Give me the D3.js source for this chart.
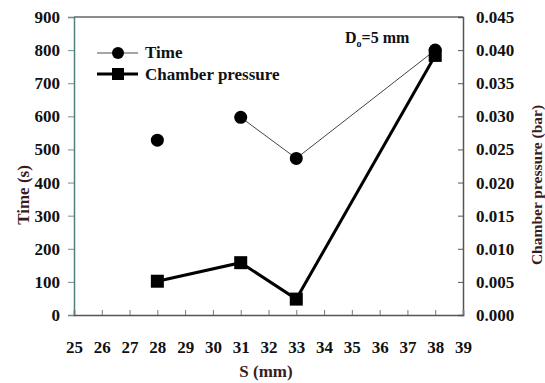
<!DOCTYPE html>
<html>
<head>
<meta charset="utf-8">
<script src="https://cdn.jsdelivr.net/npm/d3@7"></script>
<style>
  body { margin: 0; background: #fff; }
  text { font-family: "Liberation Serif", "Times New Roman", serif; font-weight: bold; }
</style>
</head>
<body>
<svg id="chart" width="545" height="383"></svg>
<script>
// data
const sValues = [28, 31, 33, 38];
const timeValues = [528, 597, 473, 800];
const pressureValues = [0.0051, 0.0079, 0.0024, 0.0392];
// the first time point is not joined to the others
const timeLinked = [false, true, true, true];
const xTicks = [25, 26, 27, 28, 29, 30, 31, 32, 33, 34, 35, 36, 37, 38, 39];
const timeTicks = [0, 100, 200, 300, 400, 500, 600, 700, 800, 900];
const pressureTicks = [0, 0.005, 0.01, 0.015, 0.02, 0.025, 0.03, 0.035, 0.04, 0.045];

const svg = d3.select("#chart");
const plotLeft = 74, plotRight = 463, plotTop = 17, plotBottom = 315;

const x = d3.scaleLinear().domain([25, 39]).range([plotLeft, plotRight]);
const yTime = d3.scaleLinear().domain([0, 900]).range([plotBottom, plotTop]);
const yPress = d3.scaleLinear().domain([0, 0.045]).range([plotBottom, plotTop]);

// frame
svg.append("line").attr("x1", plotLeft).attr("x2", plotRight).attr("y1", plotTop).attr("y2", plotTop)
    .attr("stroke", "#666").attr("stroke-width", 1.5);

// left axis
const gLeft = svg.append("g").attr("transform", `translate(${plotLeft},0)`)
    .call(d3.axisLeft(yTime).tickValues(timeTicks).tickSize(6).tickPadding(8).tickFormat(d3.format("d")));
gLeft.select(".domain").attr("stroke", "#4f7f7f").attr("stroke-width", 1.5);
gLeft.selectAll(".tick line").attr("stroke", "#6f8f8f");
gLeft.selectAll("text").style("font-size", "17px").attr("fill", "#111").attr("font-family", null);

// right axis, ticks inside
const gRight = svg.append("g").attr("transform", `translate(${plotRight},0)`)
    .call(d3.axisRight(yPress).tickValues(pressureTicks).tickSize(-5).tickPadding(13).tickFormat(d3.format(".3f")));
gRight.select(".domain").attr("stroke", "#555").attr("stroke-width", 1.5);
gRight.selectAll(".tick line").attr("stroke", "#555");
gRight.selectAll("text").style("font-size", "17px").attr("fill", "#111").attr("font-family", null);

// bottom axis, ticks inside
const gBottom = svg.append("g").attr("transform", `translate(0,${plotBottom})`)
    .call(d3.axisBottom(x).tickValues(xTicks).tickSize(-5).tickPadding(26).tickFormat(d3.format("d")));
gBottom.select(".domain").attr("stroke", "#555").attr("stroke-width", 1.5);
gBottom.selectAll(".tick line").attr("stroke", "#777");
gBottom.selectAll("text").style("font-size", "17px").attr("fill", "#111").attr("font-family", null);

// axis titles
svg.append("text").attr("transform", "translate(29,195) rotate(-90)")
    .attr("text-anchor", "middle").style("font-size", "17px").attr("fill", "#3a1c1c").text("Time (s)");
svg.append("text").attr("transform", "translate(542,185) rotate(-90)")
    .attr("text-anchor", "middle").style("font-size", "15.5px").attr("fill", "#3a1c1c").text("Chamber pressure (bar)");
svg.append("text").attr("x", 266).attr("y", 377)
    .attr("text-anchor", "middle").style("font-size", "17px").attr("fill", "#3a1c1c").text("S (mm)");

// time series: thin gray line, circles
const timeData = sValues.map((s, i) => ({ s: s, v: timeValues[i], linked: timeLinked[i] }));
const timeLine = d3.line().defined(d => d.linked).x(d => x(d.s)).y(d => yTime(d.v));
svg.append("path").datum(timeData).attr("d", timeLine)
    .attr("fill", "none").attr("stroke", "#444").attr("stroke-width", 1);
svg.selectAll(".tpt").data(timeData).enter().append("circle").attr("class", "tpt")
    .attr("cx", d => x(d.s)).attr("cy", d => yTime(d.v)).attr("r", 6.5).attr("fill", "#000");

// pressure series: thick black line, squares
const pressData = sValues.map((s, i) => ({ s: s, v: pressureValues[i] }));
const pressLine = d3.line().x(d => x(d.s)).y(d => yPress(d.v));
svg.append("path").datum(pressData).attr("d", pressLine)
    .attr("fill", "none").attr("stroke", "#000").attr("stroke-width", 3);
svg.selectAll(".ppt").data(pressData).enter().append("rect").attr("class", "ppt")
    .attr("x", d => x(d.s) - 6.5).attr("y", d => yPress(d.v) - 6.5)
    .attr("width", 13).attr("height", 13).attr("fill", "#000");

// legend
const legend = svg.append("g");
legend.append("line").attr("x1", 97).attr("x2", 138).attr("y1", 53).attr("y2", 53)
    .attr("stroke", "#888").attr("stroke-width", 1.5);
legend.append("circle").attr("cx", 118).attr("cy", 53).attr("r", 6).attr("fill", "#000");
legend.append("text").attr("x", 145).attr("y", 58).style("font-size", "17px").attr("fill", "#111").text("Time");
legend.append("line").attr("x1", 97).attr("x2", 138).attr("y1", 74).attr("y2", 74)
    .attr("stroke", "#000").attr("stroke-width", 3);
legend.append("rect").attr("x", 112).attr("y", 68).attr("width", 12).attr("height", 12).attr("fill", "#000");
legend.append("text").attr("x", 145).attr("y", 80).style("font-size", "17px").attr("fill", "#111").text("Chamber pressure");

// D0 annotation
const ann = svg.append("text").attr("x", 345).attr("y", 43).style("font-size", "16px").attr("fill", "#111");
ann.append("tspan").text("D");
ann.append("tspan").attr("dy", 4).style("font-size", "10px").text("o");
ann.append("tspan").attr("dy", -4).text("=5 mm");
</script>
</body>
</html>
